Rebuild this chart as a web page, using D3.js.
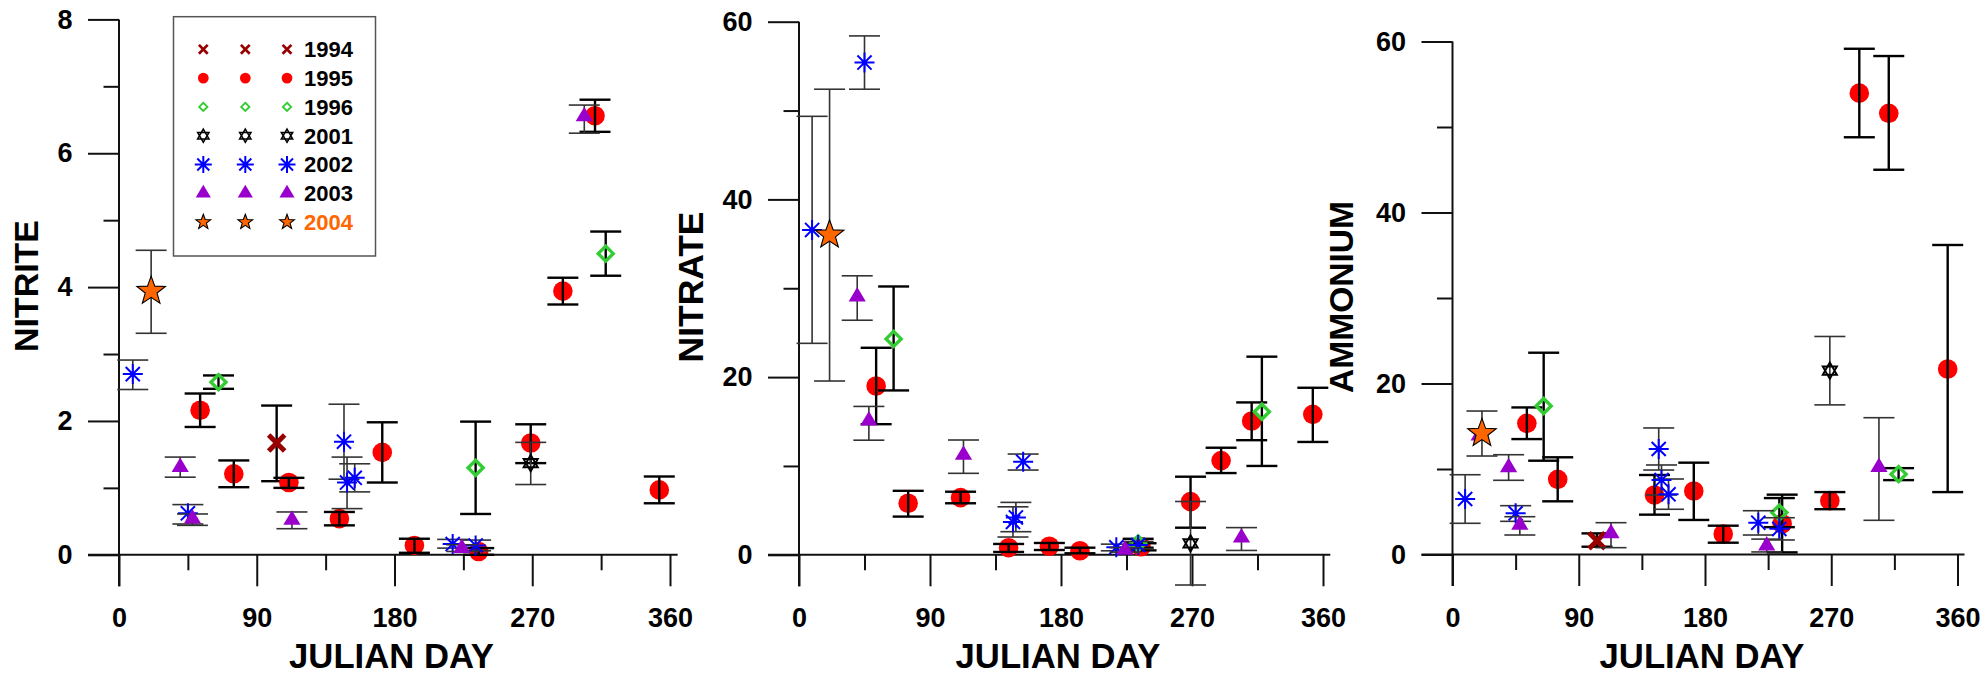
<!DOCTYPE html>
<html><head><meta charset="utf-8">
<script src="https://cdn.jsdelivr.net/npm/d3@7"></script>
<style>
body{margin:0;background:#fff}
svg{display:block}
text{font-family:"Liberation Sans",Arial,sans-serif;font-weight:bold}
</style>
</head><body>
<svg id="c" width="1986" height="677"></svg>
<script>
// ---------- DATA: [julian day, mean, lower error, upper error] ----------
const years = ["1994","1995","1996","2001","2002","2003","2004"];
const dayTicks = [0, 90, 180, 270, 360];
const dayMinorTicks = [45, 135, 225, 315];
const nitriteTicks = [0, 2, 4, 6, 8];
const nitriteMinor = [1, 3, 5, 7];
const nitrateTicks = [0, 20, 40, 60];
const nitrateMinor = [10, 30, 50];
const ammoniumTicks = [0, 20, 40, 60];
const ammoniumMinor = [10, 30, 50];

const nitrite1994 = [[103,1.67,1.10,2.23]];
const nitrite1995 = [[53,2.16,1.91,2.41],[75,1.21,1.01,1.41],[111,1.08,1.00,1.15],[144,0.54,0.44,0.64],[172,1.53,1.08,1.98],[193,0.14,0.03,0.24],[235,0.05,0.00,0.10],[269,1.67,1.37,1.95],[290,3.94,3.74,4.14],[311,6.56,6.32,6.80],[353,0.97,0.77,1.17]];
const nitrite1996 = [[65,2.58,2.48,2.68],[233,1.30,0.61,1.99],[318,4.50,4.17,4.83]];
const nitrite2001 = [[269,1.37,1.05,1.68]];
const nitrite2002 = [[9,2.70,2.47,2.91],[45,0.62,0.46,0.75],[147,1.69,1.13,2.25],[149,1.08,0.69,1.46],[154,1.15,0.94,1.36],[218,0.16,0.10,0.23],[233,0.14,0.06,0.22]];
const nitrite2003 = [[40,1.31,1.16,1.46],[48,0.54,0.44,0.61],[113,0.52,0.39,0.64],[224,0.10,0.05,0.15],[304,6.55,6.30,6.72]];
const nitrite2004 = [[21,3.94,3.31,4.55]];

const nitrate1994 = [];
const nitrate1995 = [[53,19.0,14.7,23.3],[75,5.8,4.3,7.2],[111,6.43,5.8,7.1],[144,0.8,0.32,1.22],[172,0.96,0.54,1.33],[193,0.46,0.17,0.8],[235,0.91,0.5,1.3],[269,5.98,3.05,8.79],[290,10.6,9.2,12.05],[311,15.06,12.9,17.15],[353,15.8,12.7,18.8]];
const nitrate1996 = [[65,24.3,18.5,30.2],[233,1.29,0.8,1.8],[318,16.1,10.0,22.3]];
const nitrate2001 = [[269,1.29,-3.4,6.0]];
const nitrate2002 = [[9,36.56,23.8,49.35],[45,55.4,52.4,58.4],[147,3.7,2.0,5.4],[149,4.2,2.6,5.9],[154,10.48,9.54,11.34],[218,0.84,0.45,1.2],[233,1.1,0.7,1.5]];
const nitrate2003 = [[40,29.05,26.4,31.4],[48,15.1,12.9,16.7],[113,11.23,9.17,12.92],[224,0.54,0.3,0.8],[304,1.94,0.49,3.06]];
const nitrate2004 = [[21,36.0,19.56,52.4]];

const ammonium1994 = [[103,1.62,0.91,2.47]];
const ammonium1995 = [[53,15.34,13.5,17.2],[75,8.79,6.22,11.37],[144,6.96,4.66,9.3],[172,7.43,4.04,10.74],[193,2.4,1.38,3.37],[235,3.6,0.25,7.0],[269,6.3,5.3,7.3],[290,53.96,48.8,59.15],[311,51.6,45.0,58.3],[353,21.7,7.3,36.2]];
const ammonium1996 = [[65,17.37,10.97,23.6],[233,4.9,3.2,6.6],[318,9.4,8.7,10.1]];
const ammonium2001 = [[269,21.5,17.5,25.5]];
const ammonium2002 = [[9,6.49,3.65,9.33],[45,4.82,3.88,5.71],[147,12.34,9.88,14.8],[149,8.71,6.96,10.47],[154,7.04,5.29,8.83],[218,3.72,2.28,5.12],[233,3.0,1.7,4.3]];
const ammonium2003 = [[19,13.9,13.9,13.9],[40,10.18,8.68,11.67],[48,3.45,2.28,4.42],[113,2.47,0.8,3.72],[224,1.03,0.3,1.8],[304,10.2,4.0,16.0]];
const ammonium2004 = [[21,14.17,11.52,16.78]];

// ---------- STYLE ----------
const colors = {"1994":"#990000","1995":"#FF0000","1996":"#33CC33","2001":"#000000","2002":"#0000FF","2003":"#9900CC","2004":"#FF6600"};
const thickBars = {"1994":true,"1995":true,"1996":true};

const svg = d3.select("#c");

function markerPath(sel, year, k) {
  const c = colors[year];
  if (year === "1994") {
    const s = 8*k;
    sel.append("path").attr("d",`M${-s},${-s}L${s},${s}M${-s},${s}L${s},${-s}`)
      .attr("stroke",c).attr("stroke-width",5*k).attr("fill","none");
  } else if (year === "1995") {
    sel.append("circle").attr("r",9.8*k).attr("fill",c);
  } else if (year === "1996") {
    const d = 7.5*k;
    sel.append("path").attr("d",`M0,${-d}L${d},0L0,${d}L${-d},0Z`)
      .attr("fill","none").attr("stroke",c).attr("stroke-width",3.4*k);
  } else if (year === "2001") {
    const r = 8.2*k, a = r*0.866;
    sel.append("path").attr("d",`M0,${-r}L${a},${r/2}L${-a},${r/2}ZM0,${r}L${a},${-r/2}L${-a},${-r/2}Z`)
      .attr("fill","none").attr("stroke",c).attr("stroke-width",Math.max(1.2,1.9*k));
  } else if (year === "2002") {
    const r = 10*k, q = r*0.7071;
    sel.append("path").attr("d",`M0,${-r}L0,${r}M${-r},0L${r},0M${-q},${-q}L${q},${q}M${-q},${q}L${q},${-q}`)
      .attr("stroke",c).attr("stroke-width",2).attr("fill","none");
  } else if (year === "2003") {
    const w = 8.6*k, h = 14.5*k;
    sel.append("path").attr("d",`M0,${-h*2/3}L${w},${h/3}L${-w},${h/3}Z`).attr("fill",c);
  } else if (year === "2004") {
    const R = 15*k, r = 6.2*k;
    const pts = d3.range(10).map(i => {
      const ang = -Math.PI/2 + i*Math.PI/5, rr = i%2 ? r : R;
      return [rr*Math.cos(ang), rr*Math.sin(ang)];
    });
    sel.append("path").attr("d","M"+pts.map(p=>p.join(",")).join("L")+"Z")
      .attr("fill",c).attr("stroke","#000").attr("stroke-width",1.1);
  }
}

const panels = [
  {title:"NITRITE", series:[nitrite1994,nitrite1995,nitrite1996,nitrite2001,nitrite2002,nitrite2003,nitrite2004],
   ticks:nitriteTicks, minor:nitriteMinor, x0:119, x360:670, yTop:19.4, yBot:554.8, tx:37.5, ty:286, tw:132},
  {title:"NITRATE", series:[nitrate1994,nitrate1995,nitrate1996,nitrate2001,nitrate2002,nitrate2003,nitrate2004],
   ticks:nitrateTicks, minor:nitrateMinor, x0:799, x360:1323, yTop:21.7, yBot:554.8, tx:703, ty:287, tw:151},
  {title:"AMMONIUM", series:[ammonium1994,ammonium1995,ammonium1996,ammonium2001,ammonium2002,ammonium2003,ammonium2004],
   ticks:ammoniumTicks, minor:ammoniumMinor, x0:1452.5, x360:1957.5, yTop:41.5, yBot:554.5, tx:1353, ty:297, tw:192}
];

function fitText(t, target) {
  const len = t.node().getComputedTextLength();
  if (len > 0) {
    const fs = parseFloat(t.style("font-size"));
    t.style("font-size", (fs*target/len).toFixed(2) + "px");
  }
}

panels.forEach(p => {
  const yMax = p.ticks[p.ticks.length-1];
  const x = d3.scaleLinear().domain([0,360]).range([p.x0,p.x360]);
  const y = d3.scaleLinear().domain([0,yMax]).range([p.yBot,p.yTop]);
  const g = svg.append("g");

  // axes
  const ax = g.append("g").attr("transform",`translate(0,${p.yBot})`)
    .call(d3.axisBottom(x).tickValues(dayTicks).tickSize(31.5).tickPadding(22).tickFormat(d3.format("d")));
  const axm = g.append("g").attr("transform",`translate(0,${p.yBot})`)
    .call(d3.axisBottom(x).tickValues(dayMinorTicks).tickSize(15.5).tickFormat(""));
  const ay = g.append("g").attr("transform",`translate(${p.x0},0)`)
    .call(d3.axisLeft(y).tickValues(p.ticks).tickSize(31).tickPadding(15.5).tickFormat(d3.format("d")));
  const aym = g.append("g").attr("transform",`translate(${p.x0},0)`)
    .call(d3.axisLeft(y).tickValues(p.minor).tickSize(15.5).tickFormat(""));
  [ax,axm,ay,aym].forEach(a => {
    a.select(".domain").remove();
    a.attr("font-family",null).attr("font-size",null);
    a.selectAll("line").attr("stroke","#111").attr("stroke-width",2);
    a.selectAll("text").attr("fill","#000").style("font-size","27px");
  });
  ax.selectAll("text").attr("dy","0.71em");
  // axis lines
  g.append("line").attr("x1",p.x0-31).attr("x2",x(365)).attr("y1",p.yBot).attr("y2",p.yBot)
    .attr("stroke","#111").attr("stroke-width",2);
  g.append("line").attr("x1",p.x0).attr("x2",p.x0).attr("y1",p.yTop).attr("y2",p.yBot+31.5)
    .attr("stroke","#111").attr("stroke-width",2);

  // titles
  const xt = g.append("text").attr("x",(p.x0+p.x360)/2-3).attr("y",668).attr("text-anchor","middle")
    .style("font-size","35px").text("JULIAN DAY");
  fitText(xt, 205);
  const yt = g.append("text").attr("transform",`translate(${p.tx},${p.ty}) rotate(-90)`).attr("text-anchor","middle")
    .style("font-size","35px").text(p.title);
  fitText(yt, p.tw);

  // series
  p.series.forEach((data, i) => {
    const yr = years[i];
    const sg = g.append("g");
    const bars = () => {
      const bg = sg.append("g").attr("stroke", thickBars[yr] ? "#000" : "#333")
        .attr("stroke-width", thickBars[yr] ? 2.4 : 1.6);
      data.forEach(d => {
        if (d[2] === d[3]) return;
        const cx = x(d[0]);
        bg.append("line").attr("x1",cx).attr("x2",cx).attr("y1",y(d[2])).attr("y2",y(d[3]));
        bg.append("line").attr("x1",cx-15.5).attr("x2",cx+15.5).attr("y1",y(d[2])).attr("y2",y(d[2]));
        bg.append("line").attr("x1",cx-15.5).attr("x2",cx+15.5).attr("y1",y(d[3])).attr("y2",y(d[3]));
      });
    };
    const marks = () => {
      data.forEach(d => {
        const m = sg.append("g").attr("transform",`translate(${x(d[0])},${y(d[1])})`);
        markerPath(m, yr, 1);
      });
    };
    if (yr === "1995") { marks(); bars(); } else { bars(); marks(); }
  });
});

// legend
const lg = svg.append("g");
lg.append("rect").attr("x",173.5).attr("y",16.7).attr("width",202).attr("height",239.3)
  .attr("fill","#fff").attr("stroke","#555").attr("stroke-width",1.5);
const legScale = {"1994":0.55,"1995":0.55,"1996":0.55,"2001":0.8,"2002":0.85,"2003":0.88,"2004":0.52};
years.forEach((yr,i) => {
  const cy = 49.3 + i*28.8;
  [203.3,245.3,287].forEach(cx => {
    const m = lg.append("g").attr("transform",`translate(${cx},${cy})`);
    markerPath(m, yr, legScale[yr]);
  });
  lg.append("text").attr("x",304).attr("y",cy).attr("dy","0.36em").style("font-size","22px")
    .attr("fill", yr === "2004" ? "#FF6600" : "#000").text(yr);
});
</script>
</body></html>
